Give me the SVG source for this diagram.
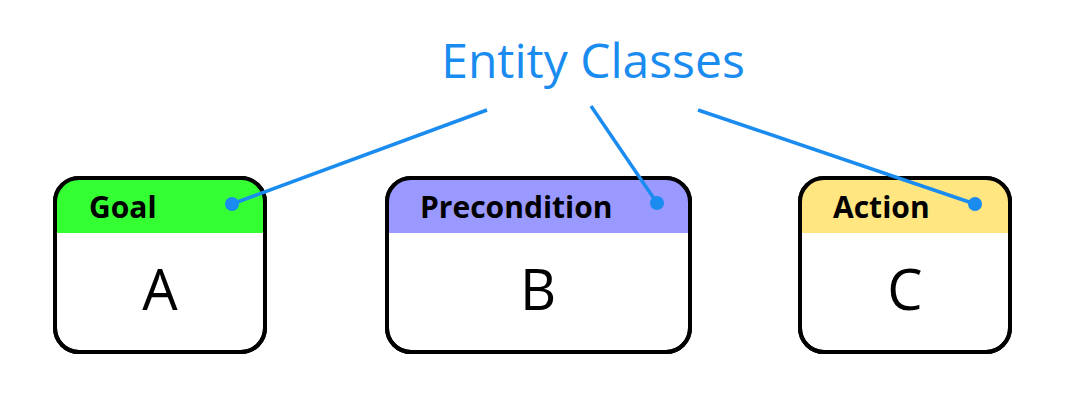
<svg xmlns="http://www.w3.org/2000/svg" width="1077" height="408" viewBox="0 0 1077 408">
<style>
.box{fill:#fff;stroke:#000;stroke-width:4}
.hdr{font-family:"Open Sans","DejaVu Sans",sans-serif;font-weight:bold;font-size:30px;fill:#000}
.big{font-family:"Open Sans","DejaVu Sans",sans-serif;font-size:56px;fill:#000;text-anchor:middle}
.ln{stroke:#1a8cf0;stroke-width:3.5;fill:none}
.dot{fill:#1a8cf0}
</style>
<defs>
<clipPath id="ca"><rect x="55" y="178" width="210" height="174" rx="24"/></clipPath>
<clipPath id="cb"><rect x="387" y="178" width="303" height="174" rx="24"/></clipPath>
<clipPath id="cc"><rect x="800" y="178" width="210" height="174" rx="24"/></clipPath>
</defs>
<text x="593" y="78" font-family="'Open Sans','DejaVu Sans',sans-serif" font-size="48" fill="#1a8cf0" text-anchor="middle">Entity Classes</text>
<g id="nodeA">
<rect class="box" x="55" y="178" width="210" height="174" rx="24"/>
<rect x="55" y="178" width="210" height="55" fill="#33ff33" clip-path="url(#ca)"/>
<rect x="55" y="178" width="210" height="174" rx="24" fill="none" stroke="#000" stroke-width="4"/>
<text class="hdr" x="89" y="218">Goal</text>
<text class="big" x="160" y="310">A</text>
</g>
<g id="nodeB">
<rect class="box" x="387" y="178" width="303" height="174" rx="24"/>
<rect x="387" y="178" width="303" height="55" fill="#9999ff" clip-path="url(#cb)"/>
<rect x="387" y="178" width="303" height="174" rx="24" fill="none" stroke="#000" stroke-width="4"/>
<text class="hdr" x="420" y="218">Precondition</text>
<text class="big" x="538" y="310">B</text>
</g>
<g id="nodeC">
<rect class="box" x="800" y="178" width="210" height="174" rx="24"/>
<rect x="800" y="178" width="210" height="55" fill="#ffe680" clip-path="url(#cc)"/>
<rect x="800" y="178" width="210" height="174" rx="24" fill="none" stroke="#000" stroke-width="4"/>
<text class="hdr" x="833" y="218">Action</text>
<text class="big" x="905" y="310">C</text>
</g>
<g id="connectors">
<line class="ln" x1="487" y1="110" x2="232" y2="204"/>
<line class="ln" x1="591" y1="106" x2="657" y2="203"/>
<line class="ln" x1="698" y1="110" x2="975" y2="204"/>
<circle class="dot" cx="232" cy="204" r="7"/>
<circle class="dot" cx="657" cy="203" r="7"/>
<circle class="dot" cx="975" cy="204" r="7"/>
</g>
</svg>
